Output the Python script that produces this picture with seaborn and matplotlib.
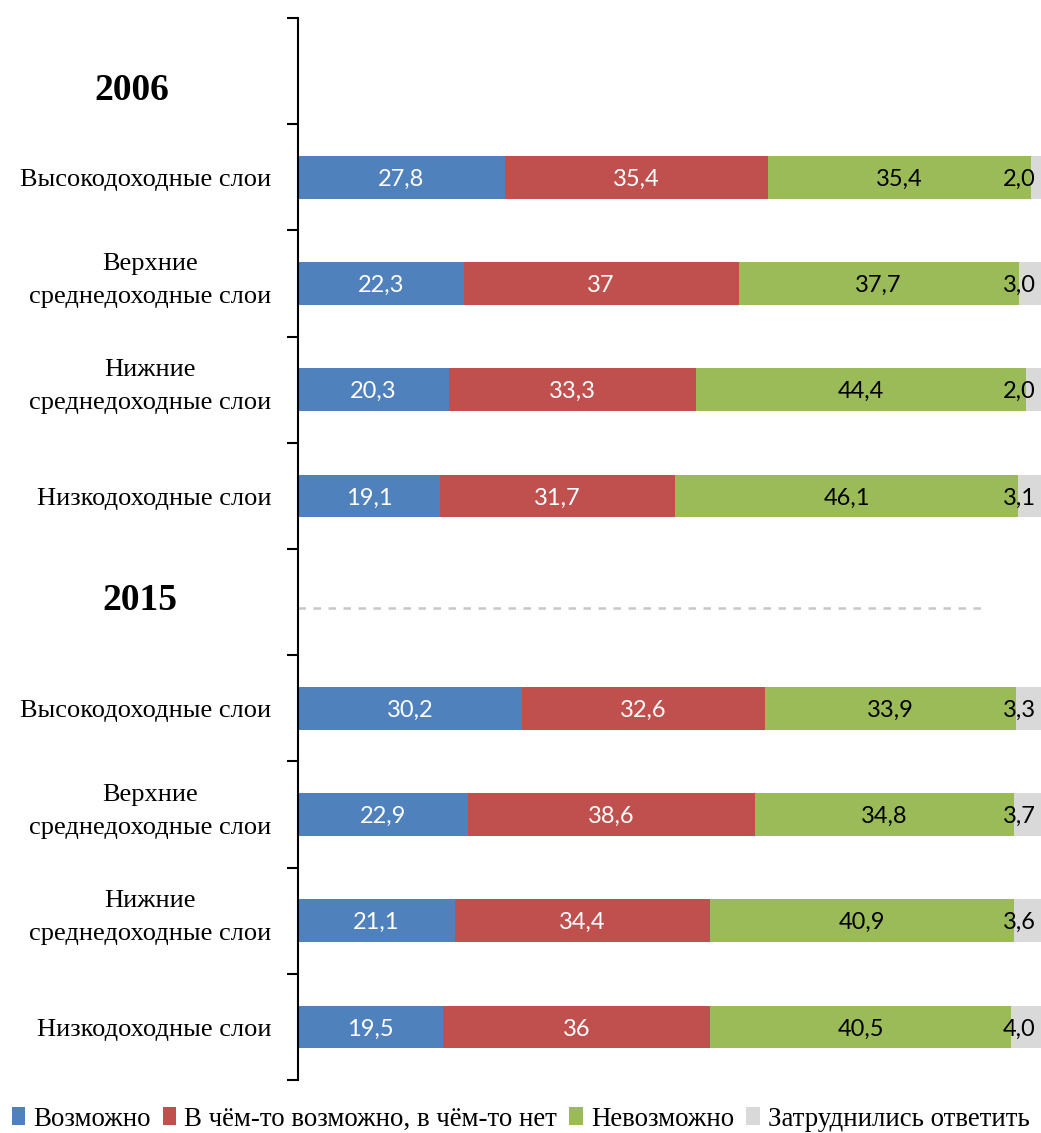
import numpy as np
import pandas as pd
import matplotlib
matplotlib.use("Agg")
import matplotlib.pyplot as plt
import seaborn as sns
from matplotlib.patches import Patch

sns.set_theme(style="white")
plt.rcParams['font.family'] = ['Liberation Serif', 'DejaVu Serif']
plt.rcParams['text.color'] = 'black'

years = ["2006", "2015"]
groups = ["Высокодоходные слои", "Верхние\nсреднедоходные слои",
          "Нижние\nсреднедоходные слои", "Низкодоходные слои"]
series = ["Возможно", "В чём-то возможно, в чём-то нет", "Невозможно", "Затруднились ответить"]
possible_2006 = [27.8, 22.3, 20.3, 19.1]
partly_2006 = [35.4, 37, 33.3, 31.7]
impossible_2006 = [35.4, 37.7, 44.4, 46.1]
hard_2006 = [2.0, 3.0, 2.0, 3.1]
possible_2015 = [30.2, 22.9, 21.1, 19.5]
partly_2015 = [32.6, 38.6, 34.4, 36]
impossible_2015 = [33.9, 34.8, 40.9, 40.5]
hard_2015 = [3.3, 3.7, 3.6, 4.0]
label_texts = {
    "2006": [["27,8", "35,4", "35,4", "2,0"], ["22,3", "37", "37,7", "3,0"],
             ["20,3", "33,3", "44,4", "2,0"], ["19,1", "31,7", "46,1", "3,1"]],
    "2015": [["30,2", "32,6", "33,9", "3,3"], ["22,9", "38,6", "34,8", "3,7"],
             ["21,1", "34,4", "40,9", "3,6"], ["19,5", "36", "40,5", "4,0"]],
}
colors = ["#4F81BD", "#C0504D", "#9BBB59", "#D9D9D9"]
text_colors = ["white", "white", "black", "black"]

# build rows: header, 4 groups, header, 4 groups
row_ids = [f"r{i}" for i in range(10)]
vals = {s: [np.nan] * 10 for s in series}
src = {"2006": [possible_2006, partly_2006, impossible_2006, hard_2006],
       "2015": [possible_2015, partly_2015, impossible_2015, hard_2015]}
for yi, y in enumerate(years):
    for gi in range(4):
        r = yi * 5 + 1 + gi
        for si, s in enumerate(series):
            vals[s][r] = src[y][si][gi]
df = pd.DataFrame(vals)
df["row"] = row_ids
cum = df[series].cumsum(axis=1)

W, H = 1041, 1133
fig = plt.figure(figsize=(W / 100, H / 100), dpi=100)
ax = fig.add_axes([298 / W, 1 - 1080 / H, (1041 - 298) / W, (1080 - 18) / H])

for si in range(3, -1, -1):
    s = series[si]
    sns.barplot(x=cum[s], y=df["row"], order=row_ids, orient="h",
                color=colors[si], width=0.4, saturation=1, ax=ax, linewidth=0)

ax.set_xlim(0, 100)
ax.set_ylim(9.5, -0.5)
ax.set_xlabel("")
ax.set_ylabel("")
ax.set_xticks([])
ax.set_yticks(np.arange(-0.5, 10, 1))
ax.set_yticklabels([])
ax.tick_params(axis="y", direction="out", length=8, width=1.5, color="black", left=True)
for side in ["top", "right", "bottom"]:
    ax.spines[side].set_visible(False)
ax.spines["left"].set_color("black")
ax.spines["left"].set_linewidth(1.5)

# data labels
num_font = ['Lato', 'DejaVu Sans']
for yi, y in enumerate(years):
    for gi in range(4):
        r = yi * 5 + 1 + gi
        left = 0
        for si, s in enumerate(series):
            v = df.loc[r, s]
            txt = label_texts[y][gi][si]
            if si < 3:
                ax.text(left + v / 2, r + 0.02, txt, ha="center", va="center",
                        color=text_colors[si], fontsize=17, family=num_font)
            else:
                ax.text(99.3, r + 0.02, txt, ha="right", va="center",
                        color=text_colors[si], fontsize=17, family=num_font)
            left += v

# category labels
for yi in range(2):
    for gi, g in enumerate(groups):
        r = yi * 5 + 1 + gi
        dy = -0.03 if "\n" in g else 0.03
        ax.text(-3.6, r + dy, g, ha="right", va="center", multialignment="center",
                fontsize=19, linespacing=1.65, transform=ax.transData, clip_on=False)

# headers
fig.text(132 / W, 1 - 90 / H, "2006", ha="center", va="center", fontsize=27, fontweight="bold")
fig.text(140 / W, 1 - 600 / H, "2015", ha="center", va="center", fontsize=27, fontweight="bold")

# dashed separator
ax.plot([0, 92.9], [5.06, 5.06], linestyle=(0, (3, 3)), color="#C8C8C8", linewidth=1.8)

handles = [Patch(facecolor=c, edgecolor="none") for c in colors]
fig.legend(handles, series, loc="center", bbox_to_anchor=(0.5, 1 - 1119 / H), ncol=4,
           frameon=False, fontsize=19.4, handlelength=0.5, handleheight=0.65,
           handletextpad=0.3, columnspacing=0.45, borderaxespad=0, borderpad=0)

fig.savefig("out.png", dpi=100)
